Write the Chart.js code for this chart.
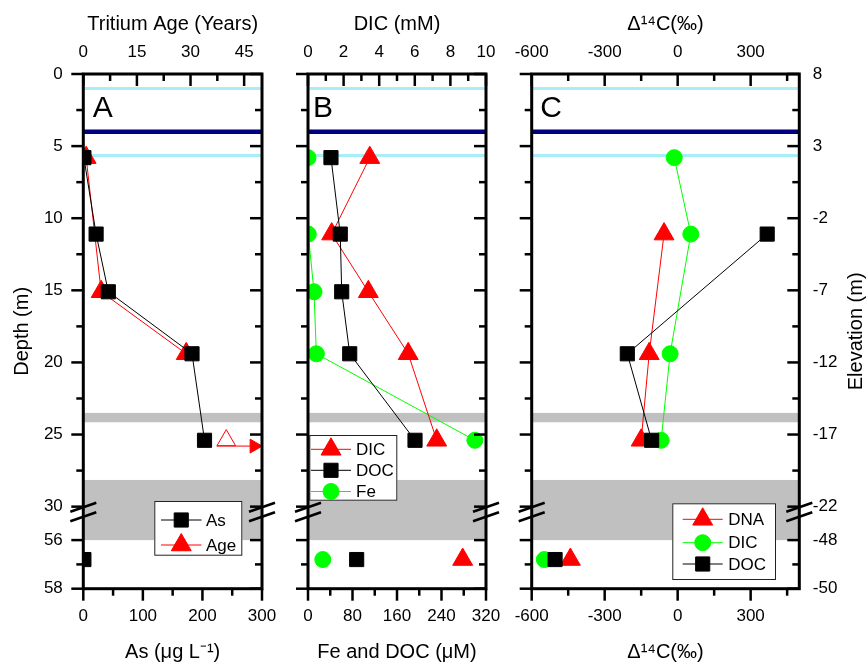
<!DOCTYPE html>
<html><head><meta charset="utf-8">
<script src="https://cdn.jsdelivr.net/npm/chart.js@4.4.1/dist/chart.umd.min.js"></script>
<style>
html,body{margin:0;padding:0;background:#fff;}
#wrap{position:relative;width:868px;height:665px;overflow:hidden;}
canvas{position:absolute;left:0;top:0;}
</style></head><body>
<div id="wrap">
<canvas id="cA" width="868" height="665"></canvas>
<canvas id="cB" width="868" height="665"></canvas>
<canvas id="cC" width="868" height="665"></canvas>
</div>
<script>
// ---------------- data ----------------
const sampleDepths = [5.8, 11.1, 15.1, 19.4, 25.4, 56.8];      // m
// Panel A
const asValues   = [1, 21.5, 42, 182.5, 203.5, 1];            // µg/L
const ageYears   = [0.8, null, 5.0, 28.8, null, null];        // tritium age, years
const ageLowerBound = [null, null, null, null, 40, null];     // > 40 years (open symbol)
const ageArrowDepth = 25.8;
const ageArrowRange = [37.3, 47.8];
// Panel B
const dicMM  = [3.47, 1.33, 3.39, 5.63, 7.23, 8.69];          // mM
const docUM  = [41.3, 58, 60.6, 75, 192.4, 87.5];             // µM
const feUM   = [0, 0.5, 10.8, 15, 300, 26.6];                 // µM
// Panel C (Δ14C, ‰)
const dnaC14 = [null, -56, null, -117, -150, -441];
const dicC14 = [-14, 54, null, -31, -68, -548];
const docC14 = [null, 368, null, -207, -107, -504];
// ticks
const depthTicks     = [0, 5, 10, 15, 20, 25, 30, 56, 58];
const depthMinor     = [2.5, 7.5, 12.5, 17.5, 22.5, 27.5, 57];
const surfaceElevation = 8;
const elevationTicks = depthTicks.map(d => surfaceElevation - d);
const ageTicks   = [0, 15, 30, 45];
const asTicks    = [0, 100, 200, 300];
const dicTicks   = [0, 2, 4, 6, 8, 10];
const feDocTicks = [0, 80, 160, 240, 320];
const c14Ticks   = [-600, -300, 0, 300];
// site features (depth, m)
const waterLevels = [1.0, 5.65];
const navyLevel = 4.0;
const clayLayers = [[23.5, 24.15], [28.15, 56]];

// ---------------- broken depth axis ----------------
const T = d => d <= 30 ? d : 32.32 + (d - 56) * 1.685;
const Y_MAX = T(58);
const BREAK_A = 30.04, BREAK_B = 30.7;

const FONT = 'Arial, "Liberation Sans", Helvetica, sans-serif';
const RED = '#ff0000', GREEN = '#00ff00', BLACK = '#000000';

function pts(values) {
  return sampleDepths.map((d, i) => values[i] == null ? null : {x: values[i], y: T(d)}).filter(Boolean);
}
const hideBreak = { borderColor: c => (c.p0.parsed.y > 31 || c.p1.parsed.y > 31) ? 'rgba(0,0,0,0)' : undefined };

function series(label, xAxisID, data, color, style, radius, order, extra) {
  return Object.assign({
    label, xAxisID, yAxisID: 'y', data, order,
    borderColor: color, backgroundColor: color,
    pointBackgroundColor: color, pointBorderColor: color, pointBorderWidth: 1,
    borderWidth: 1, pointStyle: style, pointRadius: radius, pointHoverRadius: radius,
    showLine: true, tension: 0, fill: false, segment: hideBreak
  }, extra || {});
}

function minorOf(major, max) {
  const out = [];
  for (let i = 0; i < major.length - 1; i++) out.push((major[i] + major[i + 1]) / 2);
  const step = major[1] - major[0];
  const nxt = major[major.length - 1] + step / 2;
  if (nxt < max) out.push(nxt);
  return out;
}

function xAxis(pos, min, max, ticksArr, title) {
  return {
    type: 'linear', position: pos, min, max,
    grid: {display: false, drawTicks: false}, border: {display: false},
    afterBuildTicks: s => { s.ticks = ticksArr.map(v => ({value: v})); },
    ticks: {autoSkip: false, maxRotation: 0, padding: pos === 'top' ? 11.4 : 17.8, color: '#000',
            font: {family: FONT, size: 17}, callback: v => String(v)},
    title: {display: true, text: title, color: '#000', font: {family: FONT, size: 20},
            padding: pos === 'top' ? {top: 12, bottom: 0} : {top: 0, bottom: 1}},
    afterFit: s => { s.height = pos === 'top' ? 74 : 665 - 588.7; }
  };
}
function yAxisHidden() {
  return { type: 'linear', position: 'left', reverse: true, min: 0, max: Y_MAX, display: false };
}

function drawMarker(ctx, style, x, y, r, fill, stroke, rot) {
  ctx.beginPath();
  if (style === 'rect') { const s = r * Math.SQRT1_2; ctx.rect(x - s, y - s, 2 * s, 2 * s); }
  else if (style === 'circle') { ctx.arc(x, y, r, 0, Math.PI * 2); }
  else {
    let a = (rot || 0) * Math.PI / 180;
    ctx.moveTo(x + Math.sin(a) * r, y - Math.cos(a) * r);
    for (let k = 1; k < 3; k++) { a += 2 * Math.PI / 3; ctx.lineTo(x + Math.sin(a) * r, y - Math.cos(a) * r); }
    ctx.closePath();
  }
  ctx.fillStyle = fill; ctx.fill();
  ctx.lineWidth = 1; ctx.strokeStyle = stroke; ctx.stroke();
}

const decor = {
  id: 'decor',
  beforeDatasetsDraw(chart, args, o) {
    const {ctx, chartArea: a} = chart; const ys = chart.scales.y;
    ctx.save();
    ctx.fillStyle = '#c0c0c0';
    clayLayers.forEach(([d0, d1]) => {
      const y0 = ys.getPixelForValue(T(d0)), y1 = ys.getPixelForValue(T(d1));
      ctx.fillRect(a.left, y0, a.right - a.left, y1 - y0);
    });
    ctx.strokeStyle = '#a8eef8'; ctx.lineWidth = 3;
    waterLevels.forEach(d => { const py = ys.getPixelForValue(T(d)); ctx.beginPath(); ctx.moveTo(a.left, py); ctx.lineTo(a.right, py); ctx.stroke(); });
    ctx.strokeStyle = '#000080'; ctx.lineWidth = 4.5;
    { const py = ys.getPixelForValue(T(navyLevel)); ctx.beginPath(); ctx.moveTo(a.left, py); ctx.lineTo(a.right, py); ctx.stroke(); }
    ctx.restore();
  },
  afterDraw(chart, args, o) {
    const {ctx, chartArea: a} = chart; const ys = chart.scales.y;
    ctx.save();
    // legend
    const L = o.legend;
    ctx.fillStyle = '#fff'; ctx.fillRect(L.x, L.y, L.w, L.h);
    ctx.strokeStyle = '#222'; ctx.lineWidth = 1; ctx.strokeRect(L.x + 0.5, L.y + 0.5, L.w - 1, L.h - 1);
    L.items.forEach((idx, i) => {
      const ds = chart.data.datasets[idx]; const ry = L.rows[i];
      ctx.strokeStyle = ds.borderColor; ctx.lineWidth = 1;
      ctx.beginPath(); ctx.moveTo(L.lx0, ry); ctx.lineTo(L.lx1, ry); ctx.stroke();
      drawMarker(ctx, ds.pointStyle, (L.lx0 + L.lx1) / 2, ry, ds.pointRadius, ds.pointBackgroundColor, ds.pointBorderColor, 0);
      ctx.fillStyle = '#000'; ctx.font = '17px ' + FONT; ctx.textBaseline = 'middle'; ctx.textAlign = 'left';
      ctx.fillText(ds.label, L.tx, ry + 1);
    });
    // panel letter
    ctx.fillStyle = '#000'; ctx.font = '30px ' + FONT; ctx.textBaseline = 'alphabetic'; ctx.textAlign = 'left';
    ctx.fillText(o.letter, a.left + o.letterDx, 117);
    // ticks
    ctx.strokeStyle = '#000'; ctx.lineWidth = 2.5;
    const seg = (x1, y1, x2, y2) => { ctx.beginPath(); ctx.moveTo(x1, y1); ctx.lineTo(x2, y2); ctx.stroke(); };
    const MAJ = 12, MIN = 7;
    depthTicks.forEach(d => { const py = ys.getPixelForValue(T(d)); seg(a.left - MAJ, py, a.left, py); seg(a.right, py, a.right - MAJ, py); });
    depthMinor.forEach(d => { const py = ys.getPixelForValue(T(d)); seg(a.left - MIN, py, a.left, py); seg(a.right, py, a.right - MIN, py); });
    const xt = chart.scales.xTop, xb = chart.scales.x;
    o.topTicks.forEach(v => { const px = xt.getPixelForValue(v); seg(px, a.top, px, a.top + MAJ); });
    minorOf(o.topTicks, xt.max).forEach(v => { const px = xt.getPixelForValue(v); seg(px, a.top, px, a.top + MIN); });
    o.bottomTicks.forEach(v => { const px = xb.getPixelForValue(v); seg(px, a.bottom, px, a.bottom + MAJ); });
    minorOf(o.bottomTicks, xb.max).forEach(v => { const px = xb.getPixelForValue(v); seg(px, a.bottom, px, a.bottom + MIN); });
    // frame
    ctx.lineWidth = 3;
    ctx.strokeRect(a.left, a.top, a.right - a.left, a.bottom - a.top);
    // axis breaks
    ctx.lineWidth = 2.5;
    [BREAK_A, BREAK_B].forEach(b => {
      const py = ys.getPixelForValue(b);
      [a.left, a.right].forEach(ax => seg(ax - 13, py + 4.5, ax + 13, py - 4.5));
    });
    // extra rotated title (right axis)
    if (o.rightTitle) {
      ctx.save();
      ctx.translate(856.5, (a.top + a.bottom) / 2);
      ctx.rotate(-Math.PI / 2);
      ctx.fillStyle = '#000'; ctx.font = '20px ' + FONT; ctx.textAlign = 'center'; ctx.textBaseline = 'middle';
      ctx.fillText(o.rightTitle, 0, 0);
      ctx.restore();
    }
    ctx.restore();
  }
};

const baseOpts = () => ({
  responsive: false, animation: false, devicePixelRatio: 1, events: [],
  plugins: {legend: {display: false}, tooltip: {enabled: false}}
});

// ---------------- Panel A ----------------
const ageMinPts = pts(ageLowerBound);
new Chart(document.getElementById('cA'), {
  type: 'line',
  data: { datasets: [
    series('As', 'x', pts(asValues), BLACK, 'rect', 10, 1),
    series('Age', 'xTop', pts(ageYears), RED, 'triangle', 11.5, 2),
    series('Age >', 'xTop', ageMinPts, RED, 'triangle', 10.7, 3, {showLine: false, pointBackgroundColor: '#ffffff'}),
    series('Age arrow', 'xTop', ageArrowRange.map(v => ({x: v, y: T(ageArrowDepth)})), RED, 'triangle', [0, 8], 4, {pointRotation: 90})
  ]},
  options: Object.assign(baseOpts(), {
    layout: {padding: {left: 0, right: 868 - 262, top: 0, bottom: 0}},
    scales: {
      x: xAxis('bottom', 0, 300, asTicks, 'As (μg L⁻¹)'),
      xTop: xAxis('top', 0, 50, ageTicks, 'Tritium Age (Years)'),
      y: {
        type: 'linear', position: 'left', reverse: true, min: 0, max: Y_MAX,
        grid: {display: false, drawTicks: false}, border: {display: false},
        afterBuildTicks: s => { s.ticks = depthTicks.map(d => ({value: T(d)})); },
        ticks: {autoSkip: false, padding: 20.5, color: '#000', font: {family: FONT, size: 17},
                callback: (v, i) => String(depthTicks[i])},
        title: {display: true, text: 'Depth (m)', color: '#000', font: {family: FONT, size: 20}, padding: {top: 10, bottom: 0}},
        afterFit: s => { s.width = 83.3; }
      }
    },
    plugins: Object.assign(baseOpts().plugins, {
      decor: {letter: 'A', letterDx: 9.4, topTicks: ageTicks, bottomTicks: asTicks,
        legend: {x: 154.3, y: 501, w: 88, h: 54.7, lx0: 161, lx1: 201.5, tx: 206, rows: [520, 545], items: [0, 1]}}
    })
  }),
  plugins: [decor]
});

// ---------------- Panel B ----------------
new Chart(document.getElementById('cB'), {
  type: 'line',
  data: { datasets: [
    series('DIC', 'xTop', pts(dicMM), RED, 'triangle', 11.5, 2),
    series('DOC', 'x', pts(docUM), BLACK, 'rect', 10, 1),
    series('Fe', 'x', pts(feUM), GREEN, 'circle', 8, 3)
  ]},
  options: Object.assign(baseOpts(), {
    layout: {padding: {left: 308, right: 868 - 486, top: 0, bottom: 0}},
    scales: {
      x: xAxis('bottom', 0, 320, feDocTicks, 'Fe and DOC (μM)'),
      xTop: xAxis('top', 0, 10, dicTicks, 'DIC (mM)'),
      y: yAxisHidden()
    },
    plugins: Object.assign(baseOpts().plugins, {
      decor: {letter: 'B', letterDx: 5, topTicks: dicTicks, bottomTicks: feDocTicks,
        legend: {x: 309.3, y: 435, w: 88, h: 65.7, lx0: 311, lx1: 351, tx: 356, rows: [449.3, 470.3, 491.5], items: [0, 1, 2]}}
    })
  }),
  plugins: [decor]
});

// ---------------- Panel C ----------------
new Chart(document.getElementById('cC'), {
  type: 'line',
  data: { datasets: [
    series('DNA', 'x', pts(dnaC14), RED, 'triangle', 11.5, 3),
    series('DIC', 'x', pts(dicC14), GREEN, 'circle', 8, 2),
    series('DOC', 'x', pts(docC14), BLACK, 'rect', 10, 1),
    series('', 'xTop', [], BLACK, 'rect', 0, 9, {showLine: false})
  ]},
  options: Object.assign(baseOpts(), {
    layout: {padding: {left: 531.7, right: 0, top: 0, bottom: 0}},
    scales: {
      x: xAxis('bottom', -600, 500, c14Ticks, 'Δ¹⁴C(‰)'),
      xTop: xAxis('top', -600, 500, c14Ticks, 'Δ¹⁴C(‰)'),
      y: yAxisHidden(),
      y2: {
        type: 'linear', position: 'right', reverse: true, min: 0, max: Y_MAX,
        grid: {display: false, drawTicks: false}, border: {display: false},
        afterBuildTicks: s => { s.ticks = depthTicks.map(d => ({value: T(d)})); },
        ticks: {autoSkip: false, padding: 13.5, color: '#000', font: {family: FONT, size: 17},
                callback: (v, i) => String(elevationTicks[i])},
        title: {display: false},
        afterFit: s => { s.width = 868 - 799.3; }
      }
    },
    plugins: Object.assign(baseOpts().plugins, {
      decor: {letter: 'C', letterDx: 8.5, topTicks: c14Ticks, bottomTicks: c14Ticks, rightTitle: 'Elevation (m)',
        legend: {x: 672.3, y: 503.3, w: 103.7, h: 76.7, lx0: 682.7, lx1: 722.7, tx: 728.3, rows: [519.3, 542.7, 564], items: [0, 1, 2]}}
    })
  }),
  plugins: [decor]
});
</script>
</body></html>
